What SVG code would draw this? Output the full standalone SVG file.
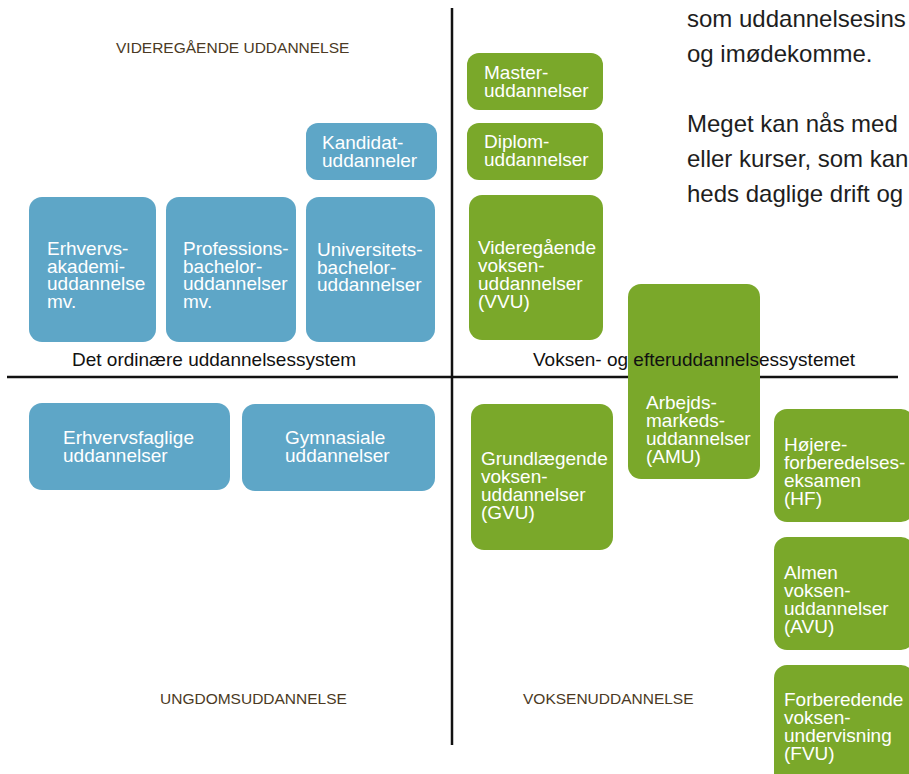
<svg xmlns="http://www.w3.org/2000/svg" width="909" height="774" viewBox="0 0 909 774">
  <style>
    .blue { fill: #5ea6c7; }
    .green { fill: #7aa82a; }
    .box text, .lbl { font-family: "Liberation Sans", Arial, sans-serif; font-size: 19px; fill: #ffffff; }
    .head { font-family: "Liberation Sans", Arial, sans-serif; font-size: 15.5px; fill: #4b3a24; }
    .axis-label { font-family: "Liberation Sans", Arial, sans-serif; font-size: 19px; fill: #111111; }
    .para { font-family: "Liberation Sans", Arial, sans-serif; font-size: 24px; fill: #1e1e1e; }
    .axis { stroke: #111111; stroke-width: 2.5; fill: none; }
  </style>
  <rect width="909" height="774" fill="#ffffff"/>

  <!-- body text at top right -->
  <g id="paragraph" class="para">
    <text x="687" y="27">som uddannelsesins</text>
    <text x="687" y="62">og imødekomme.</text>
    <text x="687" y="132">Meget kan nås med</text>
    <text x="687" y="167">eller kurser, som kan</text>
    <text x="687" y="202">heds daglige drift og</text>
  </g>

  <!-- quadrant axes -->
  <g id="connectors">
    <line class="axis" x1="452" y1="8" x2="452" y2="745"/>
    <line class="axis" x1="7" y1="377" x2="898" y2="377"/>
  </g>

  <!-- quadrant headings -->
  <g id="headings">
    <text class="head" x="116" y="53">VIDEREGÅENDE UDDANNELSE</text>
    <text class="head" x="160" y="704">UNGDOMSUDDANNELSE</text>
    <text class="head" x="523" y="704">VOKSENUDDANNELSE</text>
  </g>

  <!-- ordinary education system (blue) -->
  <g id="kandidat" class="box">
    <rect class="blue" x="306" y="123" width="131" height="57" rx="12"/>
    <text x="322" y="149">Kandidat-</text>
    <text x="322" y="167">uddanneler</text>
  </g>
  <g id="erhvervsakademi" class="box">
    <rect class="blue" x="29" y="197" width="127" height="145" rx="13"/>
    <text x="47" y="255">Erhvervs-</text>
    <text x="47" y="272.5">akademi-</text>
    <text x="47" y="290">uddannelse</text>
    <text x="47" y="307.5">mv.</text>
  </g>
  <g id="professionsbachelor" class="box">
    <rect class="blue" x="166" y="197" width="130" height="145" rx="13"/>
    <text x="183" y="255">Professions-</text>
    <text x="183" y="272.5">bachelor-</text>
    <text x="183" y="290">uddannelser</text>
    <text x="183" y="307.5">mv.</text>
  </g>
  <g id="universitetsbachelor" class="box">
    <rect class="blue" x="306" y="197" width="129" height="145" rx="13"/>
    <text x="317" y="256">Universitets-</text>
    <text x="317" y="273.5">bachelor-</text>
    <text x="317" y="291">uddannelser</text>
  </g>
  <g id="erhvervsfaglige" class="box">
    <rect class="blue" x="29" y="403" width="201" height="87" rx="13"/>
    <text x="63" y="444">Erhvervsfaglige</text>
    <text x="63" y="462">uddannelser</text>
  </g>
  <g id="gymnasiale" class="box">
    <rect class="blue" x="242" y="404" width="193" height="87" rx="13"/>
    <text x="285" y="444">Gymnasiale</text>
    <text x="285" y="462">uddannelser</text>
  </g>

  <!-- adult and continuing education system (green) -->
  <g id="master" class="box">
    <rect class="green" x="467" y="53" width="136" height="57" rx="12"/>
    <text x="484" y="79">Master-</text>
    <text x="484" y="97">uddannelser</text>
  </g>
  <g id="diplom" class="box">
    <rect class="green" x="467" y="123" width="136" height="57" rx="12"/>
    <text x="484" y="148">Diplom-</text>
    <text x="484" y="166">uddannelser</text>
  </g>
  <g id="vvu" class="box">
    <rect class="green" x="469" y="195" width="134" height="145" rx="13"/>
    <text x="478" y="254">Videregående</text>
    <text x="478" y="272">voksen-</text>
    <text x="478" y="290">uddannelser</text>
    <text x="478" y="308">(VVU)</text>
  </g>
  <g id="amu" class="box">
    <rect class="green" x="628" y="284" width="132" height="195" rx="13"/>
    <text x="646" y="409">Arbejds-</text>
    <text x="646" y="427">markeds-</text>
    <text x="646" y="445">uddannelser</text>
    <text x="646" y="463">(AMU)</text>
  </g>
  <g id="gvu" class="box">
    <rect class="green" x="471" y="404" width="142" height="146" rx="13"/>
    <text x="481" y="465">Grundlægende</text>
    <text x="481" y="483">voksen-</text>
    <text x="481" y="501">uddannelser</text>
    <text x="481" y="519">(GVU)</text>
  </g>
  <g id="hf" class="box">
    <rect class="green" x="774" y="409" width="140" height="113" rx="13"/>
    <text x="784" y="451">Højere-</text>
    <text x="784" y="469">forberedelses-</text>
    <text x="784" y="487">eksamen</text>
    <text x="784" y="505">(HF)</text>
  </g>
  <g id="avu" class="box">
    <rect class="green" x="774" y="537" width="140" height="113" rx="13"/>
    <text x="784" y="579">Almen</text>
    <text x="784" y="597">voksen-</text>
    <text x="784" y="615">uddannelser</text>
    <text x="784" y="633">(AVU)</text>
  </g>
  <g id="fvu" class="box">
    <rect class="green" x="774" y="665" width="140" height="125" rx="13"/>
    <text x="784" y="706">Forberedende</text>
    <text x="784" y="724">voksen-</text>
    <text x="784" y="742">undervisning</text>
    <text x="784" y="760">(FVU)</text>
  </g>

  <!-- system labels above the horizontal axis, drawn over the boxes -->
  <g id="system-labels">
    <text class="axis-label" x="72" y="366">Det ordinære uddannelsessystem</text>
    <text class="axis-label" x="533" y="366">Voksen- og efteruddannelsessystemet</text>
  </g>
</svg>
